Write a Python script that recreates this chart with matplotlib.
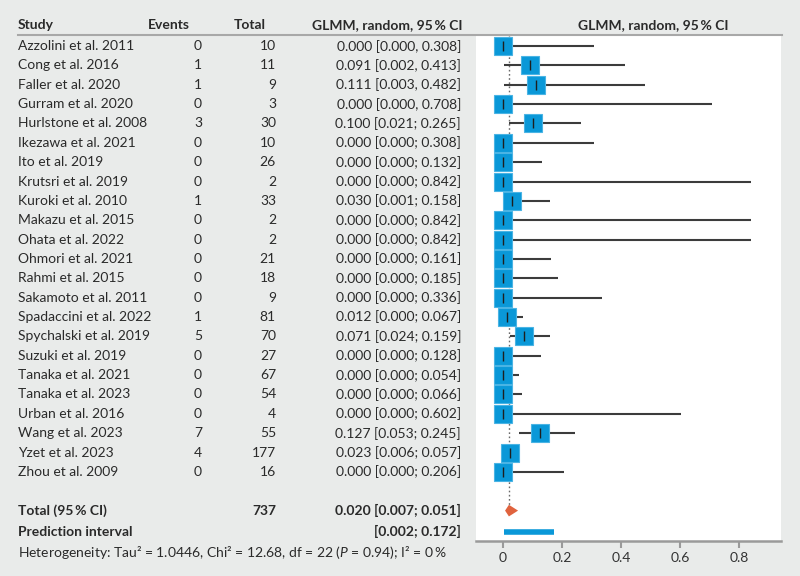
import matplotlib
matplotlib.use("Agg")
import matplotlib.pyplot as plt
from matplotlib.transforms import blended_transform_factory

plt.rcParams['font.family'] = ['Lato', 'DejaVu Sans']
plt.rcParams['mathtext.fontset'] = 'custom'
plt.rcParams['mathtext.rm'] = 'Lato'
plt.rcParams['mathtext.it'] = 'Lato:italic'

studies = ["Azzolini et al. 2011", "Cong et al. 2016", "Faller et al. 2020", "Gurram et al. 2020",
           "Hurlstone et al. 2008", "Ikezawa et al. 2021", "Ito et al. 2019", "Krutsri et al. 2019",
           "Kuroki et al. 2010", "Makazu et al. 2015", "Ohata et al. 2022", "Ohmori et al. 2021",
           "Rahmi et al. 2015", "Sakamoto et al. 2011", "Spadaccini et al. 2022", "Spychalski et al. 2019",
           "Suzuki et al. 2019", "Tanaka et al. 2021", "Tanaka et al. 2023", "Urban et al. 2016",
           "Wang et al. 2023", "Yzet et al. 2023", "Zhou et al. 2009"]
events = [0, 1, 1, 0, 3, 0, 0, 0, 1, 0, 0, 0, 0, 0, 1, 5, 0, 0, 0, 0, 7, 4, 0]
totals = [10, 11, 9, 3, 30, 10, 26, 2, 33, 2, 2, 21, 18, 9, 81, 70, 27, 67, 54, 4, 55, 177, 16]
est = [0.000, 0.091, 0.111, 0.000, 0.100, 0.000, 0.000, 0.000, 0.030, 0.000, 0.000, 0.000,
       0.000, 0.000, 0.012, 0.071, 0.000, 0.000, 0.000, 0.000, 0.127, 0.023, 0.000]
lo = [0.000, 0.002, 0.003, 0.000, 0.021, 0.000, 0.000, 0.000, 0.001, 0.000, 0.000, 0.000,
      0.000, 0.000, 0.000, 0.024, 0.000, 0.000, 0.000, 0.000, 0.053, 0.006, 0.000]
hi = [0.308, 0.413, 0.482, 0.708, 0.265, 0.308, 0.132, 0.842, 0.158, 0.842, 0.842, 0.161,
      0.185, 0.336, 0.067, 0.159, 0.128, 0.054, 0.066, 0.602, 0.245, 0.057, 0.206]
seps = [", ", ", ", ", ", ", "] + ["; "] * 19

total_n = 737
pooled = 0.020
pooled_lo = 0.007
pooled_hi = 0.051
pred_lo = 0.002
pred_hi = 0.172
xticks = [0, 0.2, 0.4, 0.6, 0.8]
xticklabels = ["0", "0.2", "0.4", "0.6", "0.8"]

BG = "#e9ebea"
BLUE = "#0a98d8"
ORANGE = "#e0633e"
TXT = "#2a2a2a"
W, H = 800, 576

fig = plt.figure(figsize=(8, 5.76), dpi=100, facecolor=BG)

# forest panel
x0, x1 = 476, 781
ytop, ybot = 36, 541
ax = fig.add_axes([x0 / W, 1 - ybot / H, (x1 - x0) / W, (ybot - ytop) / H])
ax.set_facecolor("white")
n = len(studies)
y_total = 24.0
y_pred = 25.1
ax.set_xlim(-0.0915, 0.942)
ax.set_ylim(25.57, -0.52)

rows = list(range(n))
ax.plot([pooled, pooled], [-0.52, y_total - 0.3], color="#6a6a6a", lw=1.0, ls=(0, (1.2, 1.8)), zorder=1)
for i in rows:
    ax.plot([lo[i], hi[i]], [i, i], color="#3c3c3c", lw=1.5, zorder=2, solid_capstyle='butt')
ax.plot(est, rows, ls="none", marker="s", ms=13, mfc=BLUE, mec="#4ab4e4", mew=0.8, zorder=3)
ax.plot(est, rows, ls="none", marker="|", ms=7, mec="#1e1e1e", mew=1.0, zorder=4)

# diamond
ax.fill([pooled_lo, pooled, pooled_hi, pooled], [y_total, y_total - 0.3, y_total, y_total + 0.3],
        color=ORANGE, lw=0, zorder=3)
# prediction interval
ax.plot([pred_lo, pred_hi], [y_pred, y_pred], color=BLUE, lw=4, solid_capstyle='butt', zorder=3)

for s in ["top", "right", "left"]:
    ax.spines[s].set_visible(False)
ax.spines["bottom"].set_color("#9a9a9a")
ax.spines["bottom"].set_linewidth(1.8)
ax.set_yticks([])
ax.set_xticks(xticks)
ax.set_xticklabels(xticklabels)
ax.tick_params(axis="x", colors="#9a9a9a", length=5, width=1.5, labelcolor="#333333", labelsize=10, pad=3)

# text table
tr = blended_transform_factory(fig.transFigure, ax.transData)
fs = 10
def px(x):
    return x / W

hy = -1.1
fig.text(px(18), hy, "Study", transform=tr, ha="left", va="center", fontsize=fs, fontweight="bold", color=TXT)
fig.text(px(190), hy, "Events", transform=tr, ha="right", va="center", fontsize=fs, fontweight="bold", color=TXT)
fig.text(px(266), hy, "Total", transform=tr, ha="right", va="center", fontsize=fs, fontweight="bold", color=TXT)
fig.text(px(463), hy, "GLMM, random, 95\u2009% CI", transform=tr, ha="right", va="center", fontsize=fs, fontweight="bold", color=TXT)
fig.text(px(653), hy, "GLMM, random, 95\u2009% CI", transform=tr, ha="center", va="center", fontsize=fs, fontweight="bold", color=TXT)
fig.add_artist(plt.Line2D([px(18), px(782)], [1 - 35 / H, 1 - 35 / H], transform=fig.transFigure, color="#a8a8a8", lw=1.5))

for i in rows:
    fig.text(px(18), i, studies[i], transform=tr, ha="left", va="center", fontsize=fs, color=TXT)
    fig.text(px(202), i, str(events[i]), transform=tr, ha="right", va="center", fontsize=fs, color=TXT)
    fig.text(px(276), i, str(totals[i]), transform=tr, ha="right", va="center", fontsize=fs, color=TXT)
    fig.text(px(461), i, f"{est[i]:.3f} [{lo[i]:.3f}{seps[i]}{hi[i]:.3f}]", transform=tr,
             ha="right", va="center", fontsize=fs, color=TXT)

fig.text(px(18), y_total, "Total (95\u2009% CI)", transform=tr, ha="left", va="center", fontsize=fs, fontweight="bold", color=TXT)
fig.text(px(276), y_total, str(total_n), transform=tr, ha="right", va="center", fontsize=fs, fontweight="bold", color=TXT)
fig.text(px(461), y_total, f"{pooled:.3f} [{pooled_lo:.3f}; {pooled_hi:.3f}]", transform=tr, ha="right", va="center", fontsize=fs, fontweight="bold", color=TXT)
fig.text(px(18), y_pred, "Prediction interval", transform=tr, ha="left", va="center", fontsize=fs, fontweight="bold", color=TXT)
fig.text(px(461), y_pred, f"[{pred_lo:.3f}; {pred_hi:.3f}]", transform=tr, ha="right", va="center", fontsize=fs, fontweight="bold", color=TXT)
fig.text(px(18), 26.15, "Heterogeneity: Tau\u00b2 = 1.0446, Chi\u00b2 = 12.68, df = 22 ($\\it{P}$ = 0.94); I\u00b2 = 0\u2009%",
         transform=tr, ha="left", va="center", fontsize=fs, color=TXT)

fig.savefig("out.png", dpi=100, facecolor=BG)
